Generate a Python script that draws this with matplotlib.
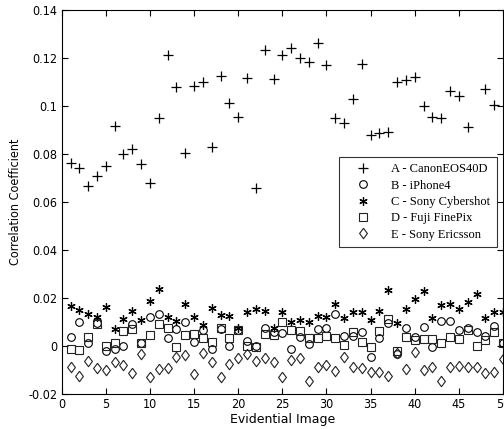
import matplotlib.pyplot as plt
import numpy as np

# evidential image index
images = np.arange(1, 51)
nan = np.nan

canon = [0.0761, 0.0740, 0.0667, 0.0710, 0.0750, 0.0917, 0.0800, 0.0820, 0.0760, 0.0678,
         0.0949, 0.1213, 0.1080, 0.0806, 0.1085, 0.1099, 0.0830, 0.1125, 0.1011, 0.0956,
         0.1115, 0.0657, 0.1233, 0.1113, 0.1213, 0.1243, 0.1199, 0.1185, 0.1261, 0.1171,
         0.0949, 0.0930, 0.1028, 0.1174, 0.0879, 0.0889, 0.0893, 0.1101, 0.1108, 0.1120,
         0.1000, 0.0953, 0.0949, 0.1064, 0.1042, 0.0911, nan, 0.1070, 0.1004, nan]

iphone = [0.0036, 0.0101, 0.0014, 0.0096, -0.0021, -0.0014, 0.0000, 0.0090, 0.0011, 0.0119,
          0.0133, 0.0035, 0.0071, 0.0101, 0.0015, 0.0067, -0.0014, 0.0071, 0.0000, 0.0067,
          0.0021, 0.0000, 0.0074, 0.0057, 0.0053, -0.0014, 0.0039, 0.0007, 0.0071, 0.0076,
          0.0133, 0.0042, 0.0042, 0.0060, -0.0044, 0.0032, 0.0097, -0.0035, 0.0074, 0.0039,
          0.0081, -0.0003, 0.0104, 0.0104, 0.0067, 0.0076, 0.0060, 0.0042, 0.0085, 0.0013]

cybershot = [0.0168, 0.0150, 0.0133, 0.0122, 0.0164, 0.0071, 0.0111, 0.0146, 0.0108, 0.0189,
             0.0238, 0.0119, 0.0104, 0.0174, 0.0122, 0.0086, 0.0157, 0.0129, 0.0125, 0.0074,
             0.0143, 0.0153, 0.0146, 0.0076, 0.0143, 0.0101, 0.0108, 0.0101, 0.0125, 0.0119,
             0.0175, 0.0115, 0.0143, 0.0140, 0.0108, 0.0147, 0.0233, 0.0094, 0.0153, 0.0194,
             0.0231, 0.0115, 0.0171, 0.0175, 0.0154, 0.0185, 0.0215, 0.0115, 0.0143, 0.0143]

finepix = [-0.0013, -0.0017, 0.0036, 0.0092, 0.0001, 0.0011, 0.0063, 0.0069, 0.0011, 0.0046,
           0.0090, 0.0074, -0.0006, 0.0046, 0.0050, 0.0032, 0.0018, 0.0076, 0.0035, 0.0067,
           0.0001, -0.0006, 0.0050, 0.0044, 0.0101, 0.0067, 0.0063, 0.0035, 0.0035, 0.0043,
           0.0032, 0.0004, 0.0060, 0.0018, -0.0006, 0.0063, 0.0111, -0.0019, 0.0039, 0.0025,
           0.0028, 0.0029, 0.0011, 0.0039, 0.0028, 0.0067, 0.0000, 0.0025, 0.0060, 0.0012]

ericsson = [-0.0089, -0.0124, -0.0061, -0.0090, -0.0100, -0.0065, -0.0079, -0.0111, -0.0035, -0.0131,
            -0.0097, -0.0093, -0.0044, -0.0038, -0.0118, -0.0028, -0.0065, -0.0128, -0.0075, -0.0051,
            -0.0033, -0.0061, -0.0051, -0.0066, -0.0128, -0.0058, -0.0051, -0.0144, -0.0089, -0.0079,
            -0.0103, -0.0047, -0.0089, -0.0093, -0.0107, -0.0107, -0.0125, -0.0031, -0.0097, -0.0024,
            -0.0100, -0.0089, -0.0144, -0.0089, -0.0083, -0.0086, -0.0086, -0.0111, -0.0107, -0.0056]

labels = ['A - CanonEOS40D', 'B - iPhone4', 'C - Sony Cybershot',
          'D - Fuji FinePix', 'E - Sony Ericsson']
yticks = [-0.02, 0, 0.02, 0.04, 0.06, 0.08, 0.1, 0.12, 0.14]
ytick_labels = ['-0.02', '0', '0.02', '0.04', '0.06', '0.08', '0.1', '0.12', '0.14']

# matlab-like diamond, a bit wider than matplotlib's thin one
diamond = [(0, 1), (0.75, 0), (0, -1), (-0.75, 0), (0, 1)]

fig = plt.figure(figsize=(5.04, 4.29), dpi=100)
ax = fig.add_axes([0.1224, 0.0816, 0.8756, 0.8951])

ax.plot(images, canon, ls='none', marker='+', ms=7, mew=0.9, color='black', label=labels[0])
ax.plot(images, iphone, ls='none', marker='o', ms=5.5, mew=0.8, mfc='none', mec='black', label=labels[1])
ax.plot(images, cybershot, ls='none', marker=(6, 2, 0), ms=6, mew=0.9, color='black', label=labels[2])
ax.plot(images, finepix, ls='none', marker='s', ms=6, mew=0.8, mfc='none', mec='#222222', label=labels[3])
ax.plot(images, ericsson, ls='none', marker=diamond, ms=7.5, mew=0.8, mfc='none', mec='#222222', label=labels[4])

ax.set_xlim(0, 50)
ax.set_ylim(-0.02, 0.14)
ax.set_xticks(np.arange(0, 51, 5))
ax.set_yticks(yticks)
ax.set_yticklabels(ytick_labels)
for t in ax.get_xticklabels() + ax.get_yticklabels():
    t.set_family('DejaVu Sans')
    t.set_stretch('condensed')
    t.set_fontsize(9)
ax.tick_params(direction='in', top=True, right=True, length=4, width=0.8, pad=3)
for s in ax.spines.values():
    s.set_linewidth(0.8)

ax.set_xlabel('Evidential Image', fontsize=9, labelpad=1)
ax.set_ylabel('Correlation Coefficient', fontsize=9, stretch='condensed')
ax.yaxis.set_label_coords(-0.09, 0.5)

leg = ax.legend(loc='upper right', bbox_to_anchor=(0.986, 0.617), frameon=True, fancybox=False,
                prop={'family': 'Liberation Serif', 'size': 9}, borderpad=0.5,
                labelspacing=0.35, handletextpad=0.9, handlelength=2.8, borderaxespad=0)
leg.get_frame().set_edgecolor('black')
leg.get_frame().set_linewidth(0.8)

plt.savefig('out.png', dpi=100)
